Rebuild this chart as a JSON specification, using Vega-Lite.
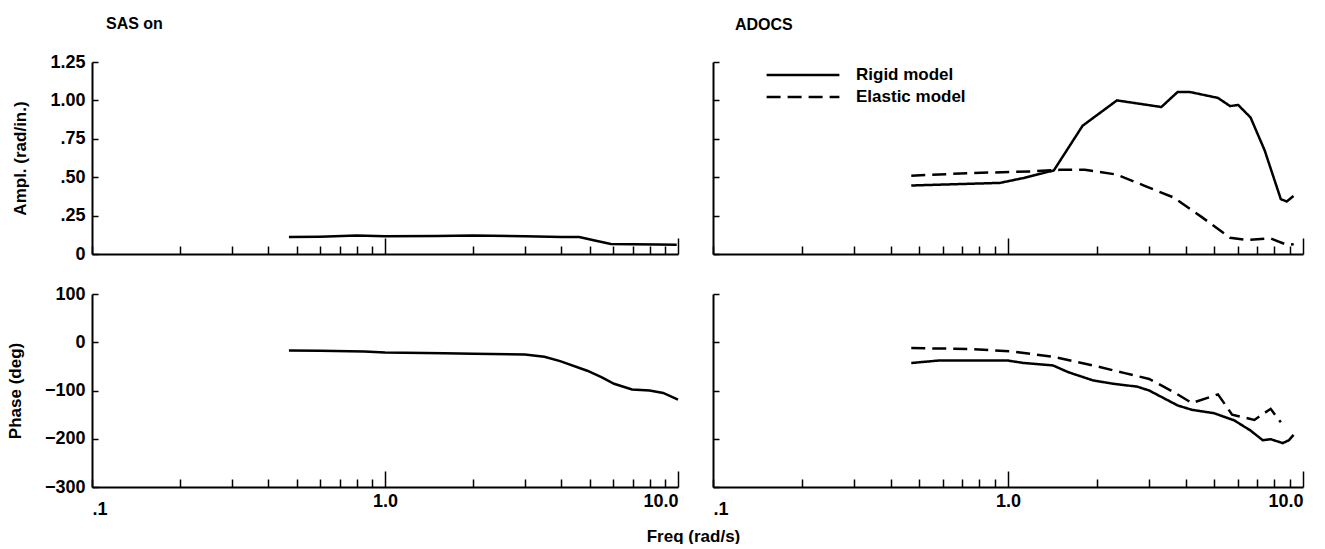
{
  "$schema": "https://vega.github.io/schema/vega-lite/v6.json",
  "padding": {"left": 6, "top": 16, "right": 5, "bottom": 0},
  "config": {
    "view": {"stroke": null},
    "font": "Liberation Sans",
    "axis": {
      "domainColor": "black", "domainWidth": 2, "tickColor": "black", "tickWidth": 1.5,
      "labelFont": "Liberation Sans", "labelFontWeight": "bold", "labelFontSize": 18, "labelColor": "black",
      "titleFont": "Liberation Sans", "titleFontWeight": "bold", "titleFontSize": 17, "titleColor": "black",
      "grid": false
    },
    "title": {"font": "Liberation Sans", "fontWeight": "bold", "fontSize": 16, "color": "black", "anchor": "start", "frame": "group"}
  },
  "datasets": {
    "sasAmp": [
      {"freq": 0.47, "amp": 0.11}, {"freq": 0.6, "amp": 0.113}, {"freq": 0.8, "amp": 0.12}, {"freq": 1.0, "amp": 0.115},
      {"freq": 1.5, "amp": 0.117}, {"freq": 2.0, "amp": 0.12}, {"freq": 3.0, "amp": 0.115}, {"freq": 4.0, "amp": 0.11},
      {"freq": 4.6, "amp": 0.11}, {"freq": 5.2, "amp": 0.088}, {"freq": 5.9, "amp": 0.065}, {"freq": 7.0, "amp": 0.063},
      {"freq": 8.5, "amp": 0.062}, {"freq": 9.9, "amp": 0.06}
    ],
    "sasPhase": [
      {"freq": 0.47, "phase": -17}, {"freq": 0.6, "phase": -17.5}, {"freq": 0.85, "phase": -19}, {"freq": 1.0, "phase": -21},
      {"freq": 1.59, "phase": -23}, {"freq": 2.0, "phase": -24}, {"freq": 3.0, "phase": -25.5}, {"freq": 3.5, "phase": -30},
      {"freq": 3.96, "phase": -39}, {"freq": 4.9, "phase": -59}, {"freq": 5.5, "phase": -73}, {"freq": 6.05, "phase": -86},
      {"freq": 6.97, "phase": -98}, {"freq": 8.0, "phase": -100}, {"freq": 8.9, "phase": -105}, {"freq": 10.0, "phase": -119}
    ],
    "adAmp": [
      {"model": "Rigid model", "freq": 0.47, "amp": 0.446}, {"model": "Rigid model", "freq": 0.94, "amp": 0.463},
      {"model": "Rigid model", "freq": 1.13, "amp": 0.495}, {"model": "Rigid model", "freq": 1.43, "amp": 0.544},
      {"model": "Rigid model", "freq": 1.79, "amp": 0.835}, {"model": "Rigid model", "freq": 2.34, "amp": 1.0},
      {"model": "Rigid model", "freq": 3.31, "amp": 0.957}, {"model": "Rigid model", "freq": 3.76, "amp": 1.055},
      {"model": "Rigid model", "freq": 4.13, "amp": 1.055}, {"model": "Rigid model", "freq": 5.15, "amp": 1.016},
      {"model": "Rigid model", "freq": 5.66, "amp": 0.963}, {"model": "Rigid model", "freq": 6.03, "amp": 0.97},
      {"model": "Rigid model", "freq": 6.64, "amp": 0.889}, {"model": "Rigid model", "freq": 7.41, "amp": 0.676},
      {"model": "Rigid model", "freq": 8.41, "amp": 0.357}, {"model": "Rigid model", "freq": 8.81, "amp": 0.342},
      {"model": "Rigid model", "freq": 9.29, "amp": 0.378},
      {"model": "Elastic model", "freq": 0.47, "amp": 0.51}, {"model": "Elastic model", "freq": 0.75, "amp": 0.527},
      {"model": "Elastic model", "freq": 1.2, "amp": 0.538}, {"model": "Elastic model", "freq": 1.5, "amp": 0.548},
      {"model": "Elastic model", "freq": 1.82, "amp": 0.548}, {"model": "Elastic model", "freq": 2.34, "amp": 0.517},
      {"model": "Elastic model", "freq": 2.92, "amp": 0.442}, {"model": "Elastic model", "freq": 3.64, "amp": 0.368},
      {"model": "Elastic model", "freq": 4.54, "amp": 0.24}, {"model": "Elastic model", "freq": 5.66, "amp": 0.106},
      {"model": "Elastic model", "freq": 6.43, "amp": 0.091}, {"model": "Elastic model", "freq": 7.77, "amp": 0.102},
      {"model": "Elastic model", "freq": 8.27, "amp": 0.081}, {"model": "Elastic model", "freq": 8.81, "amp": 0.06},
      {"model": "Elastic model", "freq": 9.3, "amp": 0.064}
    ],
    "adPhase": [
      {"model": "Rigid model", "freq": 0.47, "phase": -43}, {"model": "Rigid model", "freq": 0.58, "phase": -38},
      {"model": "Rigid model", "freq": 1.0, "phase": -38}, {"model": "Rigid model", "freq": 1.13, "phase": -43},
      {"model": "Rigid model", "freq": 1.42, "phase": -48}, {"model": "Rigid model", "freq": 1.6, "phase": -62},
      {"model": "Rigid model", "freq": 1.94, "phase": -79}, {"model": "Rigid model", "freq": 2.27, "phase": -86},
      {"model": "Rigid model", "freq": 2.74, "phase": -92}, {"model": "Rigid model", "freq": 3.01, "phase": -100},
      {"model": "Rigid model", "freq": 3.76, "phase": -131}, {"model": "Rigid model", "freq": 4.2, "phase": -140},
      {"model": "Rigid model", "freq": 4.99, "phase": -147}, {"model": "Rigid model", "freq": 5.85, "phase": -162},
      {"model": "Rigid model", "freq": 6.64, "phase": -183}, {"model": "Rigid model", "freq": 7.3, "phase": -203},
      {"model": "Rigid model", "freq": 7.77, "phase": -201}, {"model": "Rigid model", "freq": 8.54, "phase": -209},
      {"model": "Rigid model", "freq": 8.96, "phase": -203}, {"model": "Rigid model", "freq": 9.29, "phase": -192},
      {"model": "Elastic model", "freq": 0.47, "phase": -12}, {"model": "Elastic model", "freq": 0.75, "phase": -14},
      {"model": "Elastic model", "freq": 1.03, "phase": -19}, {"model": "Elastic model", "freq": 1.42, "phase": -30},
      {"model": "Elastic model", "freq": 1.94, "phase": -48}, {"model": "Elastic model", "freq": 2.49, "phase": -64},
      {"model": "Elastic model", "freq": 3.01, "phase": -76}, {"model": "Elastic model", "freq": 3.64, "phase": -103},
      {"model": "Elastic model", "freq": 4.2, "phase": -126}, {"model": "Elastic model", "freq": 5.15, "phase": -108},
      {"model": "Elastic model", "freq": 5.75, "phase": -150}, {"model": "Elastic model", "freq": 6.84, "phase": -161},
      {"model": "Elastic model", "freq": 7.77, "phase": -138}, {"model": "Elastic model", "freq": 8.41, "phase": -166}
    ]
  },
  "columns": 2,
  "bounds": "flush",
  "spacing": {"row": 40, "column": 35},
  "resolve": {"legend": {"strokeDash": "independent"}, "scale": {"strokeDash": "shared"}},
  "concat": [
    {
      "width": 586, "height": 192,
      "title": {"text": "SAS on", "dx": 14, "offset": 21},
      "data": {"name": "sasAmp"},
      "mark": {"type": "line", "color": "black", "strokeWidth": 2.5},
      "encoding": {
        "x": {"field": "freq", "type": "quantitative", "scale": {"type": "log", "domain": [0.1, 10], "nice": false},
          "axis": {"values": [0.1,0.2,0.3,0.4,0.5,0.6,0.7,0.8,0.9,1,2,3,4,5,6,7,8,9,10], "labels": false, "title": null,
            "tickSize": {"condition": {"test": "datum.value == 1 || datum.value == 10", "value": -16}, "value": -8}}},
        "y": {"field": "amp", "type": "quantitative", "scale": {"domain": [0, 1.25], "nice": false, "zero": false},
          "axis": {"values": [0, 0.25, 0.5, 0.75, 1, 1.25], "tickSize": -6, "labelPadding": 13,
            "labelExpr": "datum.value == 0 ? '0' : datum.value < 1 ? '.' + format(datum.value*100, '02d') : format(datum.value, '.2f')",
            "title": "Ampl. (rad/in.)", "titlePadding": 20}}
      }
    },
    {
      "width": 590, "height": 192,
      "title": {"text": "ADOCS", "dx": 22, "offset": 28},
      "data": {"name": "adAmp"},
      "mark": {"type": "line", "color": "black", "strokeWidth": 2.5, "strokeCap": "butt"},
      "encoding": {
        "x": {"field": "freq", "type": "quantitative", "scale": {"type": "log", "domain": [0.1, 10], "nice": false},
          "axis": {"values": [0.1,0.2,0.3,0.4,0.5,0.6,0.7,0.8,0.9,1,2,3,4,5,6,7,8,9,10], "labels": false, "title": null,
            "tickSize": {"condition": {"test": "datum.value == 1 || datum.value == 10", "value": -16}, "value": -8}}},
        "y": {"field": "amp", "type": "quantitative", "scale": {"domain": [0, 1.25], "nice": false, "zero": false},
          "axis": {"values": [0, 0.25, 0.5, 0.75, 1, 1.25], "tickSize": -6, "labels": false, "title": null}},
        "strokeDash": {"field": "model", "type": "nominal",
          "scale": {"domain": ["Rigid model", "Elastic model"], "range": [[1, 0], [14, 7]]},
          "legend": {"orient": "none", "legendX": 52, "legendY": 2, "title": null, "symbolType": "stroke",
            "symbolSize": 5300, "symbolStrokeWidth": 2.5, "symbolStrokeColor": "black", "labelOffset": 15,
            "labelFont": "Liberation Sans", "labelFontSize": 17, "labelFontWeight": "bold", "labelColor": "black",
            "clipHeight": 22, "rowPadding": 0}}
      }
    },
    {
      "width": 586, "height": 193,
      "data": {"name": "sasPhase"},
      "mark": {"type": "line", "color": "black", "strokeWidth": 2.5},
      "encoding": {
        "x": {"field": "freq", "type": "quantitative", "scale": {"type": "log", "domain": [0.1, 10], "nice": false},
          "axis": {"values": [0.1,0.2,0.3,0.4,0.5,0.6,0.7,0.8,0.9,1,2,3,4,5,6,7,8,9,10], "labelAngle": 0,
            "labelExpr": "datum.value == 0.1 ? '.1' : datum.value == 1 ? '1.0' : datum.value == 10 ? '10.0' : ''",
            "labelPadding": 21,
            "tickSize": {"condition": {"test": "datum.value == 1 || datum.value == 10", "value": -16}, "value": -8},
            "title": "Freq (rad/s)", "titleX": 601, "titleY": 49, "titleAlign": "center", "titleBaseline": "middle", "titleAnchor": null}},
        "y": {"field": "phase", "type": "quantitative", "scale": {"domain": [-300, 100], "nice": false, "zero": false},
          "axis": {"values": [-300, -200, -100, 0, 100], "tickSize": -6, "labelPadding": 13,
            "title": "Phase (deg)", "titlePadding": 20}}
      }
    },
    {
      "width": 590, "height": 193,
      "data": {"name": "adPhase"},
      "mark": {"type": "line", "color": "black", "strokeWidth": 2.5, "strokeCap": "butt"},
      "encoding": {
        "x": {"field": "freq", "type": "quantitative", "scale": {"type": "log", "domain": [0.1, 10], "nice": false},
          "axis": {"values": [0.1,0.2,0.3,0.4,0.5,0.6,0.7,0.8,0.9,1,2,3,4,5,6,7,8,9,10], "labelAngle": 0,
            "labelExpr": "datum.value == 0.1 ? '.1' : datum.value == 1 ? '1.0' : datum.value == 10 ? '10.0' : ''",
            "labelPadding": 21, "title": null,
            "tickSize": {"condition": {"test": "datum.value == 1 || datum.value == 10", "value": -16}, "value": -8}}},
        "y": {"field": "phase", "type": "quantitative", "scale": {"domain": [-300, 100], "nice": false, "zero": false},
          "axis": {"values": [-300, -200, -100, 0, 100], "tickSize": -6, "labels": false, "title": null}},
        "strokeDash": {"field": "model", "type": "nominal",
          "scale": {"domain": ["Rigid model", "Elastic model"], "range": [[1, 0], [14, 7]]},
          "legend": null}
      }
    }
  ]
}
